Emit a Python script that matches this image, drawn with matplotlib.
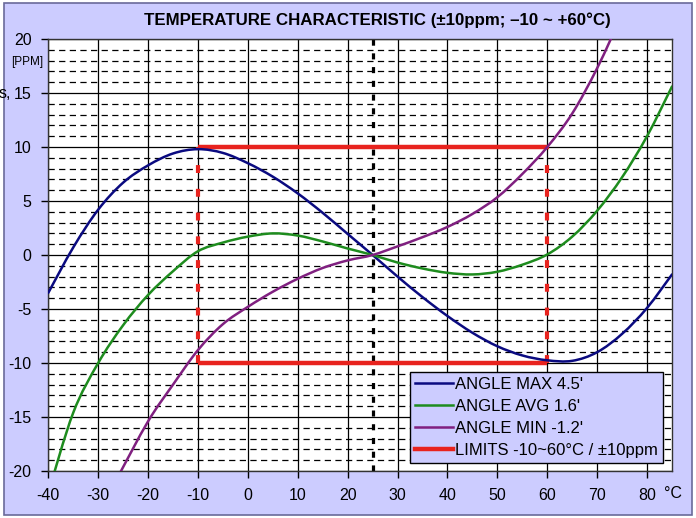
import matplotlib
matplotlib.use("Agg")
import matplotlib.pyplot as plt
from matplotlib import font_manager
from matplotlib.ticker import MultipleLocator
from matplotlib.patches import Rectangle, PathPatch
from matplotlib.path import Path
from matplotlib.lines import Line2D

names = {f.name for f in font_manager.fontManager.ttflist}
FONT = 'Liberation Sans Narrow' if 'Liberation Sans Narrow' in names else 'Liberation Sans'

# ---- data ----
temp_max = [-40, -35, -30, -25, -20, -15, -10, -5, 0, 5, 10, 15, 20, 25, 30, 35, 40, 45, 50, 55, 60, 65, 70, 75, 80, 85]
ppm_max = [-3.5, 0.7, 4.2, 6.7, 8.3, 9.4, 9.8, 9.45, 8.5, 7.25, 5.7, 3.9, 1.95, 0.0, -2.0, -3.9, -5.65, -7.2, -8.45, -9.3, -9.75, -9.8, -9.0, -7.3, -4.9, -1.8]

temp_avg = [-40, -35, -30, -25, -20, -15, -10, -5, 0, 5, 10, 15, 20, 25, 30, 35, 40, 45, 50, 55, 60, 65, 70, 75, 80, 85]
ppm_avg = [-22.0, -14.6, -10.0, -6.5, -3.7, -1.5, 0.35, 1.15, 1.7, 2.0, 1.8, 1.25, 0.6, 0.0, -0.7, -1.25, -1.65, -1.8, -1.55, -0.9, 0.05, 1.7, 4.1, 7.2, 11.0, 15.6]

temp_min = [-26, -20, -15, -10, -5, 0, 5, 10, 15, 20, 25, 30, 35, 40, 45, 50, 55, 60, 65, 70, 75]
ppm_min = [-20.5, -15.4, -12.0, -8.8, -6.4, -4.8, -3.4, -2.2, -1.2, -0.5, 0.0, 0.8, 1.65, 2.6, 3.8, 5.35, 7.5, 10.0, 13.1, 17.3, 22.3]

limit_temps = [-10, 60]
limit_ppm = [-10, 10]
center_temp = 25

series_labels = ["ANGLE MAX 4.5'", "ANGLE AVG 1.6'", "ANGLE MIN -1.2'", "LIMITS -10~60°C / ±10ppm"]
x_ticks = [-40, -30, -20, -10, 0, 10, 20, 30, 40, 50, 60, 70, 80]
y_ticks = [-20, -15, -10, -5, 0, 5, 10, 15, 20]
title = "TEMPERATURE CHARACTERISTIC (±10ppm; –10 ~ +60°C)"


def smooth_path(xs, ys):
    """Excel-style smoothed line: cubic Bezier segments through the data points."""
    pts = list(zip(xs, ys))
    verts = [pts[0]]
    codes = [Path.MOVETO]
    n = len(pts)
    for i in range(n - 1):
        p0 = pts[i - 1] if i > 0 else pts[i]
        p1 = pts[i]
        p2 = pts[i + 1]
        p3 = pts[i + 2] if i + 2 < n else pts[i + 1]
        c1 = (p1[0] + (p2[0] - p0[0]) / 6, p1[1] + (p2[1] - p0[1]) / 6)
        c2 = (p2[0] - (p3[0] - p1[0]) / 6, p2[1] - (p3[1] - p1[1]) / 6)
        verts += [c1, c2, p2]
        codes += [Path.CURVE4] * 3
    return Path(verts, codes)


# ---- figure ----
W, H = 696, 518
fig = plt.figure(figsize=(W / 100, H / 100), dpi=100)
fig.patch.set_facecolor('white')
bg = Rectangle((4 / W, 1 - 515 / H), 688 / W, 512 / H, transform=fig.transFigure,
               facecolor='#CCCCFF', edgecolor='#6A6A9A', lw=1.2, zorder=-5)
fig.patches.append(bg)

ax = fig.add_axes([48.3 / W, 1 - 471 / H, (672 - 48.3) / W, (471 - 39) / H])
ax.set_zorder(1)
ax.set_facecolor('white')
ax.set_xlim(-40, 85)
ax.set_ylim(-20, 20)
ax.set_xticks(x_ticks)
ax.set_yticks(y_ticks)
ax.yaxis.set_minor_locator(MultipleLocator(1))
ax.tick_params(which='minor', length=0)
ax.tick_params(which='major', length=5, width=1, color='black', direction='out', pad=7)
ax.set_xticklabels([str(t) for t in x_ticks], fontfamily=FONT, fontsize=11.5)
ax.set_yticklabels([str(t) for t in y_ticks], fontfamily=FONT, fontsize=11.5)
for s in ax.spines.values():
    s.set_color('#333333')
    s.set_linewidth(1.0)

ax.grid(which='major', axis='both', color='black', lw=0.9, zorder=1)
ax.grid(which='minor', axis='y', color='black', lw=0.9, ls=(0, (5, 3.5)), zorder=1)
ax.set_axisbelow(True)

ax.axvline(center_temp, color='black', lw=2.3, ls=(0, (1.9, 2.4)), zorder=2)

c_max, c_avg, c_min, c_lim = '#0A0A80', '#1E8C1E', '#802080', '#E8231E'
for xs, ys, c in [(temp_max, ppm_max, c_max), (temp_avg, ppm_avg, c_avg), (temp_min, ppm_min, c_min)]:
    ax.add_patch(PathPatch(smooth_path(xs, ys), fill=False, edgecolor=c, lw=1.8, zorder=4,
                           capstyle='round', joinstyle='round'))

ax.plot(limit_temps, [limit_ppm[1], limit_ppm[1]], color=c_lim, lw=3.2, solid_capstyle='butt', zorder=3)
ax.plot(limit_temps, [limit_ppm[0], limit_ppm[0]], color=c_lim, lw=3.2, solid_capstyle='butt', zorder=3)
for t in limit_temps:
    ax.plot([t, t], limit_ppm, color=c_lim, lw=3.0, ls=(0, (1.9, 3.8)), zorder=3)

handles = [Line2D([], [], color=c_max, lw=1.8), Line2D([], [], color=c_avg, lw=1.8),
           Line2D([], [], color=c_min, lw=1.8), Line2D([], [], color=c_lim, lw=3.2)]
leg = ax.legend(handles, series_labels, loc='lower right', bbox_to_anchor=(663 / W, 1 - 463 / H),
                bbox_transform=fig.transFigure,
                prop={'family': FONT, 'size': 12}, frameon=True, fancybox=False,
                facecolor='#CCCCFF', edgecolor='black', framealpha=1,
                borderpad=0.3, labelspacing=0.42, handlelength=2.3, handletextpad=0.1,
                borderaxespad=0)
leg.get_frame().set_linewidth(1.0)
leg.set_zorder(10)

fig.text(377 / W, 1 - 20 / H, title, ha='center', va='center', fontsize=12.2,
         fontweight='bold', fontfamily=FONT)
fig.text(27 / W, 1 - 62 / H, "[PPM]", ha='center', va='center', fontsize=8.5, fontfamily=FONT)
fig.text(673 / W, 1 - 494 / H, "°C", ha='center', va='center', fontsize=11.5, fontfamily=FONT)
fig.text(-1 / W, 1 - 94 / H, "s,", ha='left', va='center', fontsize=11.5, fontfamily=FONT)

fig.savefig('out.png', dpi=100)
